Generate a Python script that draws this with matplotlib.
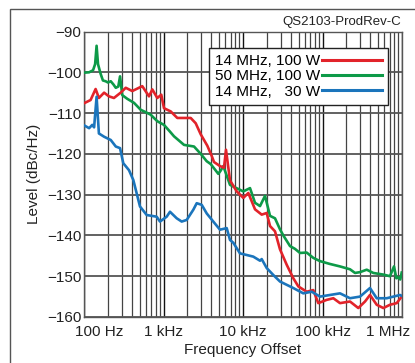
import numpy as np
import matplotlib
matplotlib.use("Agg")
import matplotlib.pyplot as plt
from matplotlib.transforms import ScaledTranslation
from matplotlib.patches import Rectangle

plt.rcParams['font.family'] = ['Liberation Sans', 'DejaVu Sans']

# 50 MHz, 100 W
freq_green = [100, 116, 130, 138, 144, 150, 162, 173, 187, 200, 217, 235, 251, 270, 284, 303,
              350, 426, 517, 600, 690, 836, 1014, 1200, 1356, 1811, 2420, 2938, 3494, 3924,
              4891, 5200, 5653, 6860, 8480, 10090, 12250, 14160, 16370, 18920, 21870, 25270,
              29190, 32140, 38990, 45100, 52130, 63240, 76570, 93040, 124200, 166000, 221800,
              256400, 296400, 359800, 435300, 582400, 706300, 793000, 850000, 898300, 950000, 991000]
level_green = [-100.1, -100.0, -99.5, -98.0, -93.5, -98.0, -100.4, -102.0, -102.2, -102.5, -102.2,
               -103.0, -103.8, -103.5, -101.0, -105.6, -106.5, -107.5, -109.2, -109.8, -110.4,
               -112.0, -112.9, -114.5, -115.7, -117.8, -118.2, -120.0, -121.8, -122.5, -124.9,
               -124.2, -123.0, -127.6, -128.5, -129.2, -128.4, -132.0, -132.8, -130.3, -135.2,
               -135.8, -138.5, -140.0, -142.6, -143.3, -144.3, -144.2, -145.5, -146.3, -147.0,
               -147.6, -148.3, -149.2, -149.0, -148.4, -149.2, -149.6, -150.0, -147.6, -150.5,
               -150.3, -150.8, -149.1]

# 14 MHz, 100 W
freq_red = [100, 121, 140, 154, 179, 206, 238, 289, 335, 405, 541, 657, 723, 836, 938, 1014,
            1232, 1492, 1811, 2199, 2542, 2938, 3556, 4040, 4317, 5137, 5769, 6112, 6860, 8337,
            10090, 11670, 14160, 17190, 19870, 21870, 25270, 29190, 35480, 42950, 49650, 63240,
            76570, 88500, 112900, 136800, 166000, 221800, 282000, 342600, 395600, 480800,
            582400, 706300, 857700, 991000]
level_red = [-107.6, -106.8, -104.1, -106.3, -105.0, -105.9, -106.3, -105.0, -103.8, -104.6,
             -103.4, -105.9, -104.2, -106.3, -105.5, -108.8, -109.6, -111.2, -111.2, -111.2,
             -112.5, -115.2, -118.0, -120.5, -122.0, -123.0, -123.4, -119.0, -126.5, -129.2,
             -130.8, -129.6, -133.6, -134.9, -134.5, -137.7, -139.0, -143.4, -147.2, -150.5,
             -152.5, -153.8, -153.4, -156.6, -155.8, -155.4, -156.6, -156.2, -157.8, -156.2,
             -154.6, -157.0, -157.8, -157.0, -156.6, -155.0]

# 14 MHz, 30 W
freq_blue = [100, 116, 127, 134, 144, 154, 179, 217, 251, 284, 312, 368, 417, 506, 615, 820,
             903, 1097, 1207, 1466, 1694, 1959, 2371, 2617, 3025, 3494, 4230, 5137, 6237, 6860,
             7556, 9162, 11140, 13480, 16370, 17190, 19870, 24050, 29190, 42950, 57330, 73080,
             93040, 124200, 166000, 221800, 296400, 395600, 480800, 642500, 943000, 991000]
level_blue = [-113.0, -113.7, -112.9, -113.5, -106.0, -115.0, -115.8, -116.6, -118.2, -118.6,
              -122.3, -124.0, -126.4, -132.9, -135.0, -135.4, -136.6, -135.4, -134.2, -135.8,
              -136.6, -136.2, -133.7, -132.1, -132.5, -134.6, -136.6, -138.6, -138.2, -141.1,
              -141.8, -144.4, -144.8, -145.2, -146.2, -145.8, -148.0, -149.7, -151.3, -152.9,
              -154.2, -153.8, -155.0, -154.6, -154.2, -155.4, -155.0, -152.9, -155.4, -155.4,
              -154.6, -154.8]

x_ticks = [1e2, 1e3, 1e4, 1e5, 1e6]
x_labels = ['100 Hz', '1 kHz', '10 kHz', '100 kHz', '1 MHz']
y_ticks = [-90, -100, -110, -120, -130, -140, -150, -160]

fig = plt.figure(figsize=(4.15, 3.63), dpi=100)
ax = fig.add_axes([84/415, 1 - 317/363, 318/415, 285.5/363])

# outer frame (only left and top edges visible)
fig.patches.append(Rectangle((10/415, -0.1), 1.2, 1 - 9/363 + 0.1, transform=fig.transFigure,
                             fill=False, edgecolor='#555555', lw=1.0))

ax.plot(freq_red, level_red, color='#e2232a', lw=1.9, label='14 MHz, 100 W', zorder=4)
ax.plot(freq_green, level_green, color='#0d9a48', lw=1.9, label='50 MHz, 100 W', zorder=3)
ax.plot(freq_blue, level_blue, color='#1b75bc', lw=1.9, label='14 MHz,   30 W', zorder=5)

ax.set_xscale('log')
ax.set_xlim(100, 1e6)
ax.set_ylim(-160, -90)

# grid
for dec in [1e2, 1e3, 1e4, 1e5]:
    for m in range(2, 10):
        ax.axvline(dec * m, color='#444444', lw=0.9, zorder=1)
for v in x_ticks:
    ax.axvline(v, color='#111111', lw=1.0, zorder=1)
for v in y_ticks:
    ax.axhline(v, color='#555555', lw=1.3, zorder=1)

ax.set_xticks(x_ticks)
ax.set_xticklabels(x_labels)
ax.set_xticks([], minor=True)
ax.set_yticks(y_ticks)
ax.set_yticklabels(['\u2212%d' % abs(v) for v in y_ticks])
ax.tick_params(length=0, labelsize=11, colors='#222222')
ax.tick_params(axis='x', pad=6)
ax.tick_params(axis='y', pad=2)

labels = ax.get_xticklabels()
labels[0].set_transform(labels[0].get_transform() + ScaledTranslation(15/100, 0, fig.dpi_scale_trans))
labels[-1].set_transform(labels[-1].get_transform() + ScaledTranslation(-14/100, 0, fig.dpi_scale_trans))

for s in ax.spines.values():
    s.set_color('#555555')
    s.set_linewidth(1.0)

ax.set_xlabel('Frequency Offset', fontsize=11, color='#222222', labelpad=2.5)
ax.set_ylabel('Level (dBc/Hz)', fontsize=11, color='#222222', labelpad=4)

fig.text(401/415, 1 - 22/363, 'QS2103-ProdRev-C', ha='right', va='center', fontsize=9.5, color='#222222')

leg = ax.legend(loc='upper right', bbox_to_anchor=((388-84)/318, (317-48)/285.5), borderaxespad=0,
                markerfirst=False, handlelength=3.9, handletextpad=0.15, fontsize=11,
                labelspacing=0.08, borderpad=0.4, fancybox=False, framealpha=1,
                edgecolor='#222222')
leg.get_frame().set_linewidth(1.0)
leg.set_zorder(10)
for line in leg.get_lines():
    line.set_linewidth(2.2)

fig.savefig('out.png', dpi=100)
